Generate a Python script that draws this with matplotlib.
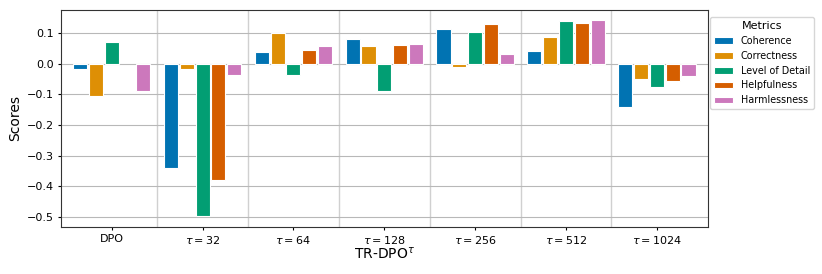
import numpy as np
import matplotlib
matplotlib.use("Agg")
import matplotlib.pyplot as plt
import seaborn as sns

groups = ['DPO', r'$\tau = 32$', r'$\tau = 64$', r'$\tau = 128$',
          r'$\tau = 256$', r'$\tau = 512$', r'$\tau = 1024$']
metrics = ['Coherence', 'Correctness', 'Level of Detail', 'Helpfulness', 'Harmlessness']

coherence = [-0.017, -0.340, 0.039, 0.080, 0.114, 0.041, -0.140]
correctness = [-0.105, -0.017, 0.100, 0.057, -0.012, 0.088, -0.049]
level_of_detail = [0.070, -0.499, -0.038, -0.089, 0.104, 0.140, -0.075]
helpfulness = [np.nan, -0.379, 0.046, 0.061, 0.130, 0.134, -0.057]  # no bar for DPO
harmlessness = [-0.089, -0.038, 0.059, 0.064, 0.032, 0.143, -0.039]

series = [coherence, correctness, level_of_detail, helpfulness, harmlessness]
colors = sns.color_palette('colorblind', 5)

fig, ax = plt.subplots(figsize=(8.22, 2.74), dpi=100)
fig.subplots_adjust(left=0.074, right=0.861, top=0.964, bottom=0.172)

x = np.arange(len(groups))
step = 0.174
for i, (name, vals) in enumerate(zip(metrics, series)):
    ax.bar(x + (i - 2) * step, vals, width=0.155, color=colors[i],
           edgecolor='white', linewidth=0.8, label=name, zorder=3)

ax.set_xticks(x)
ax.set_xticklabels(groups, fontsize=8)
ax.set_xlim(-0.56, len(groups) - 0.44)
ax.tick_params(axis='both', labelsize=8, length=2.5, pad=2.5)
ax.set_yticks([-0.5, -0.4, -0.3, -0.2, -0.1, 0.0, 0.1])
ax.set_ylim(-0.533, 0.176)

ax.grid(axis='y', color='#b8b8b8', linewidth=0.8, zorder=0)
for b in x[:-1] + 0.5:
    ax.axvline(b, color='#d0d0d0', linewidth=1.0, zorder=0)

for s in ax.spines.values():
    s.set_color('#333333')

ax.set_ylabel('Scores', fontsize=10, labelpad=3)
ax.set_xlabel(r'TR-DPO$^\tau$', fontsize=10, labelpad=0)

ax.legend(title='Metrics', loc='upper left', bbox_to_anchor=(1.004, 0.965),
          fontsize=6.9, title_fontsize=8, borderaxespad=0.0,
          handlelength=2.0, labelspacing=0.5)

fig.savefig('out.png', dpi=100)
